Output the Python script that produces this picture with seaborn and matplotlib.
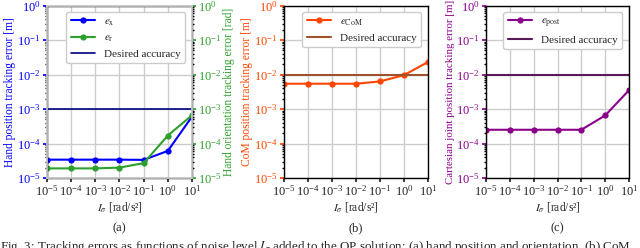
import numpy as np
import seaborn as sns
import matplotlib.pyplot as plt

sns.set_theme(style="whitegrid")
plt.rcParams['font.family'] = ['Liberation Serif', 'DejaVu Serif']
plt.rcParams['mathtext.fontset'] = 'stix'
plt.rcParams['font.size'] = 9

# noise levels
noise = [1e-5, 1e-4, 1e-3, 1e-2, 1e-1, 1e0, 1e1]

# (a) hand errors
e_x = [3.4e-5, 3.4e-5, 3.4e-5, 3.4e-5, 3.35e-5, 6.1e-5, 6.0e-4]
e_r = [1.9e-5, 1.9e-5, 1.9e-5, 2.0e-5, 2.7e-5, 1.7e-4, 6.6e-4]
acc_a = 1e-3
# (b) CoM
e_com = [5.4e-3, 5.4e-3, 5.4e-3, 5.4e-3, 6.3e-3, 9.6e-3, 2.3e-2]
acc_b = 1e-2
# (c) posture
e_post = [2.5e-4, 2.5e-4, 2.5e-4, 2.5e-4, 2.5e-4, 6.5e-4, 3.5e-3]
acc_c = 1e-2

fig = plt.figure(figsize=(6.4, 2.48), dpi=100)
W, H = 640, 248
LBL = 8.3

def make_ax(x0, x1, y0=5.5, y1=178):
    return fig.add_axes([x0 / W, 1 - y1 / H, (x1 - x0) / W, (y1 - y0) / H])

def style(ax, color):
    ax.set_xscale('log')
    ax.set_yscale('log')
    ax.set_xlim(1e-5, 1e1)
    ax.set_ylim(1e-5, 1e0)
    ax.set_xticks(noise)
    ax.set_yticks([1e-5, 1e-4, 1e-3, 1e-2, 1e-1, 1e0])
    ax.tick_params(axis='y', colors=color, labelsize=9, length=3, direction='out', left=True, pad=1.5)
    ax.tick_params(axis='x', labelsize=9, length=3, direction='out', bottom=True, pad=1.5)
    ax.tick_params(which='minor', left=True, length=1.5, color='black')
    ax.set_facecolor('white')
    for s in ax.spines.values():
        s.set_color('black')
        s.set_linewidth(1.0)
    ax.grid(True, which='major', color='#cccccc', linewidth=1)
    ax.grid(False, which='minor')
    ax.set_xlabel(r'$I_\sigma$ [rad/s²]', fontsize=LBL, labelpad=1)

kw = dict(marker='o', markersize=4.5, linewidth=1.5)
leg = dict(loc='upper right', fontsize=8, framealpha=1, edgecolor='#cccccc',
           borderpad=0.4, handlelength=2.2, labelspacing=0.45, borderaxespad=0.6)

# (a)
ax1 = make_ax(47, 192)
style(ax1, 'blue')
sns.lineplot(x=noise, y=e_x, ax=ax1, color='blue', label=r'$e_{\mathrm{x}}$', markeredgewidth=0, **kw)
sns.lineplot(x=noise, y=e_r, ax=ax1, color='tab:green', label=r'$e_{\mathrm{r}}$', markeredgewidth=0, **kw)
ax1.axhline(acc_a, color='navy', linewidth=1.2, label='Desired accuracy')
ax1.set_ylabel('Hand position tracking error [m]', color='blue', fontsize=LBL, labelpad=1)
ax1.legend(**leg)
ax1r = ax1.twinx()
ax1r.set_yscale('log')
ax1r.set_ylim(1e-5, 1e0)
ax1r.set_yticks([1e-5, 1e-4, 1e-3, 1e-2, 1e-1, 1e0])
ax1r.tick_params(axis='y', colors='tab:green', labelsize=9, length=3, right=True, pad=1.5)
ax1r.tick_params(which='minor', right=True, length=1.5, color='black')
ax1r.grid(False)
ax1r.set_ylabel('Hand orientation tracking error [rad]', color='tab:green', fontsize=LBL, labelpad=1)

# (b)
ax2 = make_ax(284, 428)
style(ax2, 'orangered')
sns.lineplot(x=noise, y=e_com, ax=ax2, color='orangered', label=r'$e_{\mathrm{CoM}}$', markeredgewidth=0, **kw)
ax2.axhline(acc_b, color='sienna', linewidth=1.5, label='Desired accuracy')
ax2.set_ylabel('CoM position tracking error [m]', color='orangered', fontsize=LBL, labelpad=1)
ax2.legend(**leg)

# (c)
ax3 = make_ax(486, 629)
style(ax3, 'darkmagenta')
sns.lineplot(x=noise, y=e_post, ax=ax3, color='darkmagenta', label=r'$e_{\mathrm{post}}$', markeredgewidth=0, **kw)
ax3.axhline(acc_c, color='#5a1a5a', linewidth=1.5, label='Desired accuracy')
ax3.set_ylabel('Cartesian joint position tracking error [m]', color='darkmagenta', fontsize=7.8, labelpad=1)
ax3.legend(**leg)

# subfigure labels and caption
for xc, lab in [(119, '(a)'), (356, '(b)'), (557, '(c)')]:
    fig.text(xc / W, 1 - 228 / H, lab, ha='center', va='center', fontsize=9)
fig.text(0 / W, 1 - 239 / H,
         r'Fig. 3: Tracking errors as functions of noise level $I_\sigma$ added to the QP solution: (a) hand position and orientation, (b) CoM',
         ha='left', va='top', fontsize=9.4)

fig.savefig('out.png', dpi=100)
